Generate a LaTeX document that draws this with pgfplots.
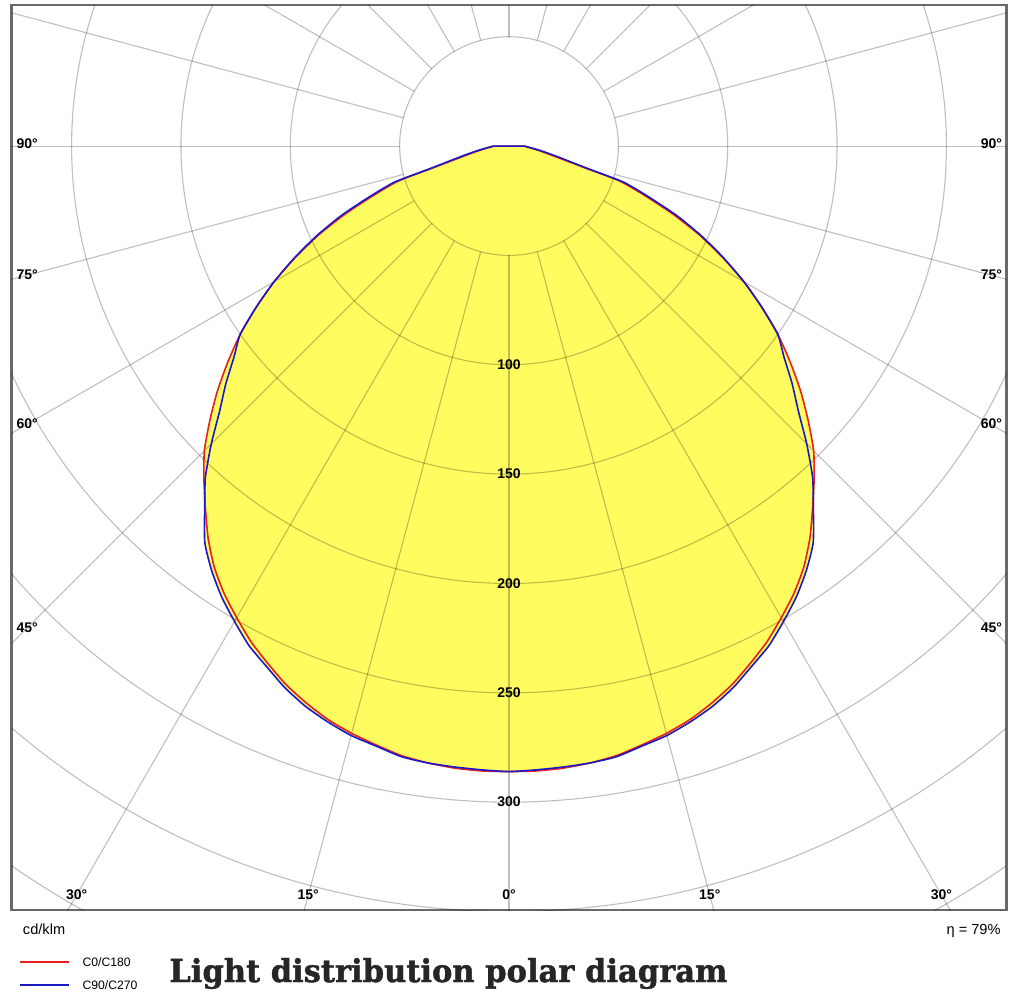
\documentclass[border=0pt]{standalone}
\usepackage{fontspec}
\setmainfont{Liberation Sans}
\newfontfamily\titlefont{DejaVu Serif}[BoldFeatures={FakeBold=1.4}]
\usepackage{graphicx}
\usepackage{pgfplots}
\usepackage{pgfplotstable}
\pgfplotsset{compat=1.18}
\definecolor{lumyellow}{RGB}{255,252,95}
\definecolor{curvered}{RGB}{235,30,30}
\definecolor{curveblue}{RGB}{25,25,200}
\definecolor{framegray}{RGB}{105,105,105}
\pgfplotsset{
  long line legend/.style={legend image code/.code={\draw[##1] (0pt,0pt) -- (24.5pt,0pt); \path (31pt,0pt);}},
}

% C0/C180: angle from nadir (deg), intensity (cd/klm)
\pgfplotstableread{
a r
-90 7
-87.5 8
-85 10
-82.5 12.5
-80 16
-77.5 21
-75 30
-74 36
-72.5 53
-70 66
-67.5 81
-65 96
-62.5 110
-60 124
-57.5 137
-55 150
-52.5 162
-50 174
-47.5 185.5
-45 197
-42.5 206.5
-40 216
-37.5 226
-35 235
-32.5 242.5
-30 249
-27.5 255.5
-25 261
-22.5 266.5
-20 271
-17.5 275
-15 278
-12.5 280.5
-10 283
-7.5 284.5
-5 285.5
-2.5 286
0 286
2.5 286
5 285.5
7.5 284.5
10 283
12.5 280.5
15 278
17.5 275
20 271
22.5 266.5
25 261
27.5 255.5
30 249
32.5 242.5
35 235
37.5 226
40 216
42.5 206.5
45 197
47.5 185.5
50 174
52.5 162
55 150
57.5 137
60 124
62.5 110
65 96
67.5 81
70 66
72.5 53
74 36
75 30
77.5 21
80 16
82.5 12.5
85 10
87.5 8
90 7
}\redtab

% C90/C270
\pgfplotstableread{
a r
-90 7
-87.5 8.5
-85 10.5
-82.5 13.5
-80 17.5
-77.5 23
-75 32
-74 38
-72.5 55
-70 68
-67.5 83
-65 97
-62.5 110.5
-60 124
-57.5 137
-55 150
-52.5 158.5
-50 169
-47.5 179.5
-45 192.5
-42.5 205.5
-40 216.5
-37.5 228.5
-35 237
-32.5 244.5
-30 251
-27.5 257.5
-25 262.5
-22.5 268
-20 272.5
-17.5 276
-15 279
-12.5 281
-10 283.5
-7.5 284.5
-5 285
-2.5 285.5
0 286
2.5 285.5
5 285
7.5 284.5
10 283.5
12.5 281
15 279
17.5 276
20 272.5
22.5 268
25 262.5
27.5 257.5
30 251
32.5 244.5
35 237
37.5 228.5
40 216.5
42.5 205.5
45 192.5
47.5 179.5
50 169
52.5 158.5
55 150
57.5 137
60 124
62.5 110.5
65 97
67.5 83
70 68
72.5 55
74 38
75 32
77.5 23
80 17.5
82.5 13.5
85 10.5
87.5 8.5
90 7
}\bluetab

\begin{document}
\begin{tikzpicture}
\path[use as bounding box] (0,0) rectangle (505.5pt,498pt);
\begin{axis}[
  at={(5.75pt,43pt)}, anchor=south west,
  x=1.0935pt, y=1.0935pt,
  xmin=-227.48, xmax=227.48, ymin=-349.3, ymax=64.5,
  xtick=\empty, ytick=\empty,
  axis line style={draw=framegray, line width=1.4pt},
  clip=true,
  legend cell align=left,
  legend style={at={(axis description cs:0.00754,-0.0702)}, anchor=west,
    draw=none, fill=none, inner sep=0pt, outer sep=0pt,
    font=\fontsize{6.1}{7}\selectfont, row sep=6.5pt,
    nodes={inner sep=0pt, text height=4.6pt, text depth=0.4pt}},
  long line legend,
]
\addplot[draw=none, fill=lumyellow, forget plot, smooth, tension=0.35] table[x expr={\thisrow{r}*sin(\thisrow{a})}, y expr={-\thisrow{r}*cos(\thisrow{a})}] {\bluetab} -- cycle;
\addplot[draw=none, fill=lumyellow, forget plot, smooth, tension=0.35] table[x expr={\thisrow{r}*sin(\thisrow{a})}, y expr={-\thisrow{r}*cos(\thisrow{a})}] {\redtab} -- cycle;

\pgfplotsinvokeforeach{50,100,150,200,250,300,350,400}{
  \draw[black, draw opacity=0.25, line width=0.55pt] (axis cs:0,0) circle[radius=#1*1.0935pt];
}
\pgfplotsinvokeforeach{0,15,30,45,60,75,90,105,120,135,150,165,180,195,210,225,240,255,270,285,300,315,330,345}{
  \draw[black, draw opacity=0.25, line width=0.55pt] (axis cs:{50*sin(#1)},{-50*cos(#1)}) -- (axis cs:{500*sin(#1)},{-500*cos(#1)});
}

\addplot[curvered, line width=0.8pt, smooth, tension=0.35] table[x expr={\thisrow{r}*sin(\thisrow{a})}, y expr={-\thisrow{r}*cos(\thisrow{a})}] {\redtab} -- cycle;
\addlegendentry{C0/C180}
\addplot[curveblue, line width=0.8pt, smooth, tension=0.35] table[x expr={\thisrow{r}*sin(\thisrow{a})}, y expr={-\thisrow{r}*cos(\thisrow{a})}] {\bluetab} -- cycle;
\addlegendentry{C90/C270}

\begin{scope}[every node/.style={font=\bfseries\fontsize{7}{8}\selectfont, inner sep=0pt}]
\node at (axis cs:0,-100) {100};
\node at (axis cs:0,-150) {150};
\node at (axis cs:0,-200) {200};
\node at (axis cs:0,-250) {250};
\node at (axis cs:0,-300) {300};
\node at (axis cs:-220.3,1) {90°};
\node at (axis cs:220.6,1) {90°};
\node at (axis cs:-220.3,-59) {75°};
\node at (axis cs:220.6,-59) {75°};
\node at (axis cs:-220.3,-127.1) {60°};
\node at (axis cs:220.6,-127.1) {60°};
\node at (axis cs:-220.3,-220.3) {45°};
\node at (axis cs:220.6,-220.3) {45°};
\node at (axis cs:-197.7,-342.5) {30°};
\node at (axis cs:-91.8,-342.5) {15°};
\node at (axis cs:0,-342.5) {0°};
\node at (axis cs:91.8,-342.5) {15°};
\node at (axis cs:197.7,-342.5) {30°};
\end{scope}
\end{axis}

\node[anchor=base west, inner sep=0pt, font=\fontsize{7.3}{8}\selectfont] at (11.3pt,31pt) {cd/klm};
\node[anchor=base east, inner sep=0pt, font=\fontsize{7.3}{8}\selectfont] at (500.5pt,31pt) {η = 79\%};
\node[anchor=base west, inner sep=0pt, text=black!85] at (84.5pt,7pt)
  {\resizebox{279pt}{\height}{\titlefont\bfseries\fontsize{15.8}{18}\selectfont Light distribution polar diagram}};
\end{tikzpicture}
\end{document}
